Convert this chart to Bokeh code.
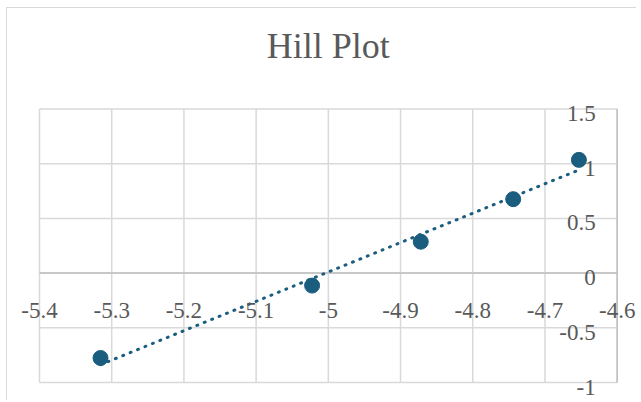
import numpy as np
from bokeh.plotting import figure
from bokeh.models import Range1d, ColumnDataSource, LabelSet, Label
from bokeh.embed import file_html
from bokeh.resources import INLINE

# data
log_conc = [-5.3155, -5.0225, -4.872, -4.744, -4.653]
log_ratio = [-0.776, -0.114, 0.287, 0.676, 1.035]

x_ticks = [-5.4, -5.3, -5.2, -5.1, -5.0, -4.9, -4.8, -4.7, -4.6]
x_tick_labels = ["-5.4", "-5.3", "-5.2", "-5.1", "-5", "-4.9", "-4.8", "-4.7", "-4.6"]
y_ticks = [-1.0, -0.5, 0.0, 0.5, 1.0, 1.5]
y_tick_labels = ["-1", "-0.5", "0", "0.5", "1", "1.5"]

COLOR = "#1a5d7e"
TEXT = "#595959"
GRID = "#d9d9d9"
AXIS = "#bfbfbf"
FONT = "Liberation Serif"

# the frame covers the whole chart area; the plot area sits inside it
W, H = 630, 393
PX_X = 722.1   # pixels per x unit
PX_Y = 109.4   # pixels per y unit
x0, x1 = x_ticks[0], x_ticks[-1]
y0, y1 = y_ticks[0], y_ticks[-1]
xr = Range1d(x0 - 32 / PX_X, x1 + (W - 32 - (x1 - x0) * PX_X) / PX_X)
yr = Range1d(y0 - (H - 100.5 - (y1 - y0) * PX_Y) / PX_Y, y1 + 100.5 / PX_Y)

p = figure(width=W, height=H, output_backend="svg", toolbar_location=None,
           x_range=xr, y_range=yr, x_axis_location=None, y_axis_location=None,
           min_border=0, title=None)
p.outline_line_color = None
p.xgrid.visible = False
p.ygrid.visible = False
p.styles = {"margin-left": "6px", "margin-top": "7px",
            "border-left": "1px solid #d9d9d9", "border-top": "1px solid #d9d9d9"}

# gridlines
p.segment(x0=x_ticks, x1=x_ticks, y0=[y0] * len(x_ticks), y1=[y1] * len(x_ticks),
          line_color=GRID, line_width=1.5)
p.segment(x0=[x0] * len(y_ticks), x1=[x1] * len(y_ticks), y0=y_ticks, y1=y_ticks,
          line_color=GRID, line_width=1.5)
# axis lines (horizontal axis at y=0, vertical axis at the right end)
p.segment(x0=[x0, x1], x1=[x1, x1], y0=[0, y0], y1=[0, y1], line_color=AXIS, line_width=1.5)

# trendline (least squares fit of the data)
slope, icpt = np.polyfit(log_conc, log_ratio, 1)
tx = [min(log_conc), max(log_conc)]
ty = [slope * v + icpt for v in tx]
p.line(tx, ty, line_color=COLOR, line_width=3, line_dash="1 7", line_cap="round")

p.scatter(log_conc, log_ratio, size=15, fill_color=COLOR, line_color=COLOR)

# tick labels
xs = ColumnDataSource(dict(x=x_ticks, y=[0] * len(x_ticks), t=x_tick_labels))
p.add_layout(LabelSet(x="x", y="y", text="t", source=xs, text_align="center",
                      text_baseline="alphabetic", y_offset=-45, text_font=FONT,
                      text_font_size="23px", text_color=TEXT))
ys = ColumnDataSource(dict(x=[x1] * len(y_ticks), y=y_ticks, t=y_tick_labels))
p.add_layout(LabelSet(x="x", y="y", text="t", source=ys, text_align="right",
                      text_baseline="alphabetic", x_offset=-21.5, y_offset=-12, text_font=FONT,
                      text_font_size="23px", text_color=TEXT))

# title
p.add_layout(Label(x=(x0 + x1) / 2, y=y1, y_offset=63, text="Hill Plot", text_align="center",
                   text_baseline="alphabetic", text_font=FONT, text_font_size="36px",
                   text_color=TEXT))

open("out.html", "w").write(file_html(p, INLINE))
